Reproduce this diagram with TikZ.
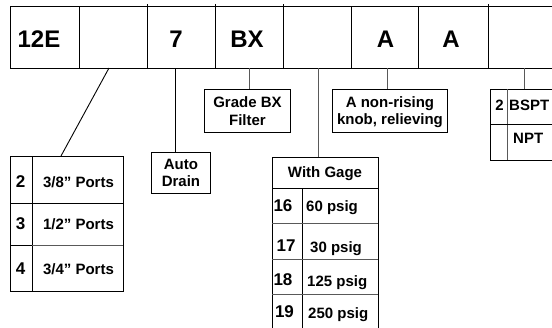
\documentclass[tikz,border=0pt]{standalone}
\usepackage{fontspec}
\setmainfont{Liberation Sans}
\begin{document}
\begin{tikzpicture}[x=1pt,y=-1pt,
  barline/.style={line width=0.9pt, black},
  tblline/.style={line width=0.9pt, black},
  softline/.style={line width=0.9pt, black!65},
  link/.style={line width=0.9pt, black!65},
  boxnode/.style={draw, line width=0.9pt, inner sep=0pt, anchor=north west},
  big/.style={font=\fontsize{24}{28}\selectfont\bfseries, inner sep=0pt, anchor=base},
  num/.style={font=\fontsize{17}{20}\selectfont\bfseries, inner sep=0pt, anchor=base},
  lbl/.style={font=\fontsize{15}{17.5}\selectfont\bfseries, inner sep=0pt, anchor=base},
  multi/.style={font=\fontsize{15}{17.5}\selectfont\bfseries, align=center, inner sep=0pt}]
\useasboundingbox (0,0) rectangle (552,327);

% --- code bar ---
\draw[barline] (10,6) rectangle (560,68);
\foreach \x in {79,351,418} \draw[barline] (\x,6) -- (\x,68);
\foreach \x in {147,215,283,488} \draw[barline] (\x,4) -- (\x,68);
\node[big] (f1) at (39,47) {12E};
\node[big] (f3) at (176,47) {7};
\node[big] (f4) at (247,47) {BX};
\node[big] (f6) at (385.5,47) {A};
\node[big] (f7) at (451,47) {A};

% taps on the bottom edge of the bar
\coordinate (k2) at (109,68);
\coordinate (k3) at (175,68);
\coordinate (k4) at (249,68);
\coordinate (k5) at (318,68);
\coordinate (k6) at (387,68);
\coordinate (k8) at (524,68);

% --- port size table ---
\node[boxnode, minimum width=113pt, minimum height=135pt] (ports) at (10,156) {};
\draw[tblline] (32,156) -- (32,291);
\draw[tblline] (10,203) -- (123,203);
\draw[softline] (32,245) -- (123,245);
\draw[tblline] (10,245) -- (32,245);
\node[num] (p2) at (20.5,187) {2};
\node[lbl] (p2t) at (78.5,187) {3/8” Ports};
\node[num] (p3) at (20.5,229) {3};
\node[lbl] (p3t) at (78.5,229) {1/2” Ports};
\node[num] (p4) at (20.5,274) {4};
\node[lbl] (p4t) at (78.5,274) {3/4” Ports};
\coordinate (ptop) at (61,156);
\draw[barline] (k2) -- (ptop);

% --- auto drain ---
\node[boxnode, minimum width=59pt, minimum height=41pt] (drain) at (151,152) {};
\node[multi] (draintxt) at (drain.center) {Auto\\Drain};
\draw[barline] (k3) -- (k3 |- drain.north);

% --- filter grade ---
\node[boxnode, minimum width=86pt, minimum height=43pt] (grade) at (204,89) {};
\node[multi] (gradetxt) at (grade.center) {Grade BX\\Filter};
\draw[link] (k4) -- (k4 |- grade.north);

% --- gage table ---
\node[boxnode, minimum width=106pt, minimum height=175pt] (gage) at (272,157) {};
\draw[tblline] (272,188) -- (378,188);
\draw[tblline] (302,188) -- (302,332);
\draw[softline] (272,223) -- (378,223);
\draw[softline] (272,259) -- (378,259);
\draw[softline] (272,294) -- (378,294);
\node[lbl] (ghead) at (325,177) {With Gage};
\node[num] (g16) at (283,211) {16};
\node[lbl, anchor=base west] (g16t) at (306,211) {60 psig};
\node[num] (g17) at (286,251) {17};
\node[lbl, anchor=base west] (g17t) at (310,252) {30 psig};
\node[num] (g18) at (283,285) {18};
\node[lbl, anchor=base west] (g18t) at (307,286) {125 psig};
\node[num] (g19) at (284.5,317) {19};
\node[lbl, anchor=base west] (g19t) at (308,318) {250 psig};
\draw[link] (k5) -- (k5 |- gage.north);

% --- knob option ---
\node[boxnode, minimum width=115pt, minimum height=43pt] (knob) at (332,89) {};
\node[multi] (knobtxt) at ([yshift=-1pt]knob.center) {A non-rising\\knob, relieving};
\draw[link] (k6) -- (k6 |- knob.north);

% --- thread table ---
\node[boxnode, minimum width=70pt, minimum height=71pt] (thread) at (490,89) {};
\draw[softline] (507,89) -- (507,160);
\draw[tblline] (490,124) -- (560,124);
\node[lbl] (t2) at (499.5,110) {2};
\node[lbl, anchor=base west] (t2t) at (509,110) {BSPT};
\node[lbl, anchor=base west] (t3t) at (513,143) {NPT};
\draw[link] (k8) -- (k8 |- thread.north);
\end{tikzpicture}
\end{document}
